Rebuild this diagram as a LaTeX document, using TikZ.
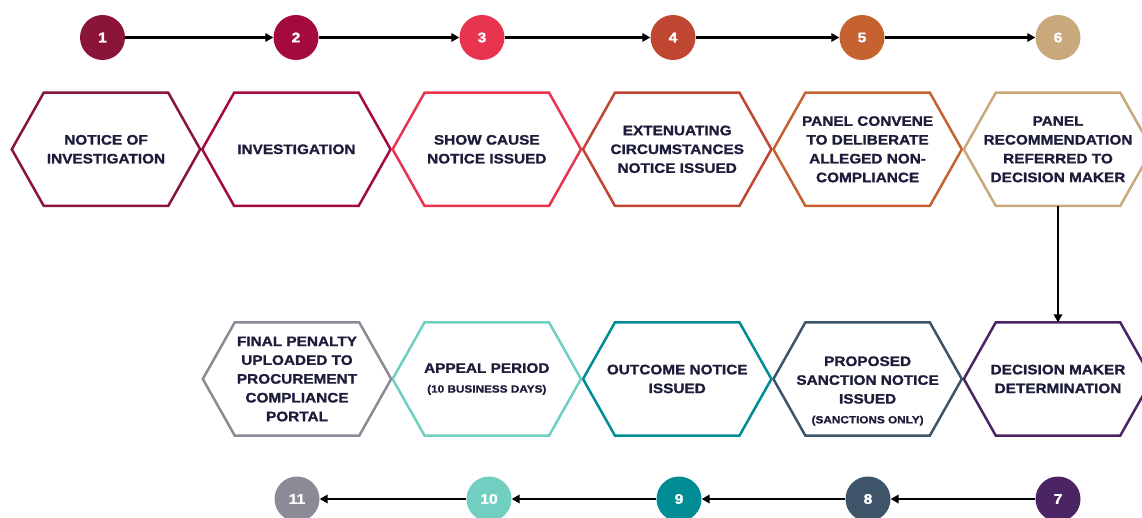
\documentclass[tikz,border=0pt]{standalone}
\usepackage{fontspec}
\setmainfont{Liberation Sans}[FakeStretch=1.12,BoldFeatures={FakeBold=1.3}]
\usetikzlibrary{arrows.meta,calc}
\definecolor{k1}{HTML}{8A1538}
\definecolor{k2}{HTML}{A50A3E}
\definecolor{k3}{HTML}{E8344E}
\definecolor{k4}{HTML}{BF4630}
\definecolor{k5}{HTML}{C6622F}
\definecolor{k6}{HTML}{C9A97C}
\definecolor{k7}{HTML}{4B2463}
\definecolor{k8}{HTML}{3E5468}
\definecolor{k9}{HTML}{008C95}
\definecolor{k10}{HTML}{70CFC0}
\definecolor{k11}{HTML}{8A8B96}
\definecolor{txt}{HTML}{1D1D3B}
\newcommand\subtxtfont{\fontsize{10.5}{14}\selectfont\bfseries}
\begin{document}
\begin{tikzpicture}[x=1pt,y=-1pt,
  numdot/.style={circle,minimum size=45pt,inner sep=0pt,text=white,
    font=\fontsize{14}{14}\selectfont\bfseries},
  hexbox/.style={minimum width=188pt,minimum height=113pt,inner sep=0pt,
    align=center,text=txt,font=\fontsize{13.7}{18.8}\selectfont\bfseries},
  hexline/.style={line width=2.5pt,line join=miter},
  flow/.style={line width=2.2pt,black,-{Triangle[length=8pt,width=8.5pt]}}]
\useasboundingbox (0,0) rectangle (1142,518);
\clip (0,0) rectangle (1142,518);
% top row circles
\node[numdot,fill=k1] (n1) at (102.5,37.5) {1};
\node[numdot,fill=k2] (n2) at (296,37.5) {2};
\node[numdot,fill=k3] (n3) at (482,37.5) {3};
\node[numdot,fill=k4] (n4) at (673,37.5) {4};
\node[numdot,fill=k5] (n5) at (862,37.5) {5};
\node[numdot,fill=k6] (n6) at (1058,37.5) {6};
% bottom row circles
\node[numdot,fill=k7] (n7) at (1058,499) {7};
\node[numdot,fill=k8] (n8) at (868,499) {8};
\node[numdot,fill=k9] (n9) at (679,499) {9};
\node[numdot,fill=k10] (n10) at (489,499) {10};
\node[numdot,fill=k11] (n11) at (297,499) {11};
% top row hexagons
\node[hexbox] (h1) at (106,149.3) {NOTICE OF\\INVESTIGATION};
\node[hexbox] (h2) at (296.4,149.3) {INVESTIGATION};
\node[hexbox] (h3) at (486.8,149.3) {SHOW CAUSE\\NOTICE ISSUED};
\node[hexbox] (h4) at (677.2,149.3) {EXTENUATING\\CIRCUMSTANCES\\NOTICE ISSUED};
\node[hexbox] (h5) at (867.6,149.3) {PANEL CONVENE\\TO DELIBERATE\\ALLEGED NON-\\COMPLIANCE};
\node[hexbox] (h6) at (1058,149.3) {PANEL\\RECOMMENDATION\\REFERRED TO\\DECISION MAKER};
% bottom row hexagons
\node[hexbox] (h7) at (1058,379) {DECISION MAKER\\DETERMINATION};
\node[hexbox] (h8) at (867.6,379) {};
\node[hexbox] (t8) at (867.6,391) {PROPOSED\\SANCTION NOTICE\\ISSUED\\[1pt]{\subtxtfont(SANCTIONS ONLY)}};
\node[hexbox] (h9) at (677.2,379) {OUTCOME NOTICE\\ISSUED};
\node[hexbox] (h10) at (486.8,379) {APPEAL PERIOD\\[1pt]{\subtxtfont(10 BUSINESS DAYS)}};
\node[hexbox] (h11) at (297,379) {FINAL PENALTY\\UPLOADED TO\\PROCUREMENT\\COMPLIANCE\\PORTAL};
% hexagon outlines
\foreach \n/\c in {h1/k1,h2/k2,h3/k3,h4/k4,h5/k5,h6/k6,h7/k7,h8/k8,h9/k9,h10/k10,h11/k11}{
  \draw[hexline,draw=\c] (\n.west) -- ($(\n.north west)+(32,0)$) -- ($(\n.north east)+(-32,0)$)
    -- (\n.east) -- ($(\n.south east)+(-32,0)$) -- ($(\n.south west)+(32,0)$) -- cycle;
}
% connectors
\draw[flow] (n1) -- (n2);
\draw[flow] (n2) -- (n3);
\draw[flow] (n3) -- (n4);
\draw[flow] (n4) -- (n5);
\draw[flow] (n5) -- (n6);
\draw[flow] (h6.south) -- (h7.north);
\draw[flow] (n7) -- (n8);
\draw[flow] (n8) -- (n9);
\draw[flow] (n9) -- (n10);
\draw[flow] (n10) -- (n11);
\end{tikzpicture}
\end{document}
